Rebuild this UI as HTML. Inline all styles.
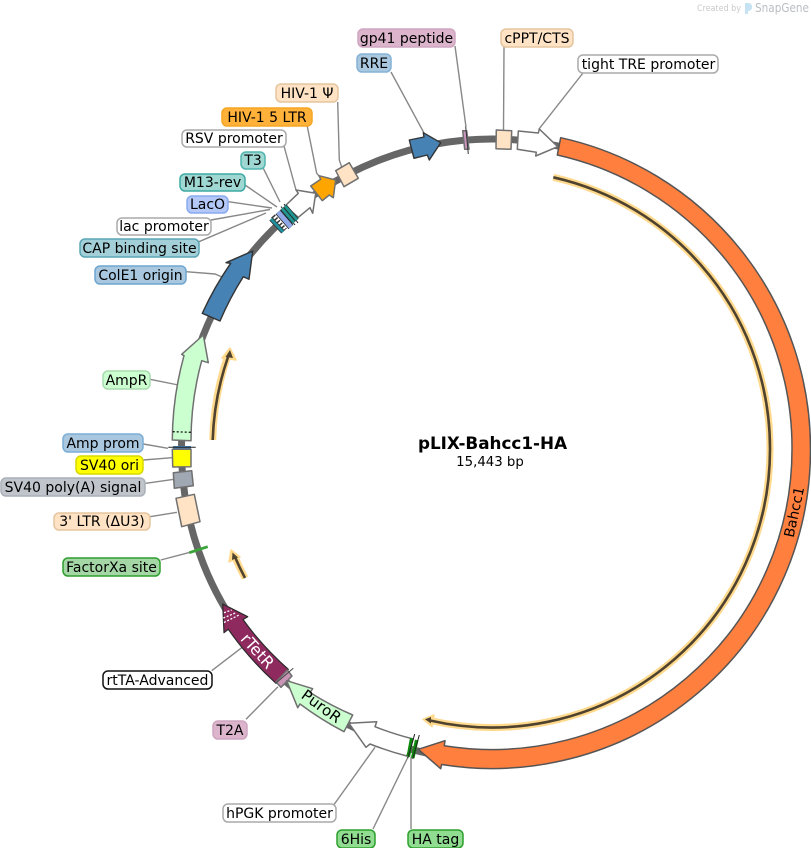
<!DOCTYPE html>
<html>
<head>
<meta charset="utf-8">
<style>
html,body{margin:0;padding:0;background:#fff;width:811px;height:848px;overflow:hidden}
svg{display:block}
text{font-family:"DejaVu Sans","Liberation Sans",sans-serif;font-size:14px;fill:#000}
.c{fill:none;stroke:#888;stroke-width:1.4}
.f{stroke:#707070;stroke-width:1.5;stroke-linejoin:round}
</style>
</head>
<body>
<svg width="811" height="848" viewBox="0 0 811 848" xmlns="http://www.w3.org/2000/svg">
<rect width="811" height="848" fill="#fff"/>

<!-- watermark -->
<text x="697" y="11" textLength="44" lengthAdjust="spacingAndGlyphs" style="font-size:9px;fill:#c9c9c9">Created by</text>
<path d="M745,3 h3 q4,0 4,4 t-4,4 v3 h-3z" fill="#c5e3f3"/>
<text x="755" y="12" textLength="54" lengthAdjust="spacingAndGlyphs" style="font-size:12px;fill:#b9bec2">SnapGene</text>

<!-- backbone -->
<circle cx="492" cy="449.5" r="310.5" fill="none" stroke="#666" stroke-width="7"/>

<!-- connectors -->
<path class="c" d="M455,46L466,127"/>
<path class="c" d="M504,47L503.5,130"/>
<path class="c" d="M391,72L424,133"/>
<path class="c" d="M583,73L539,129"/>
<path class="c" d="M337.7,102L339.3,160L342,168"/>
<path class="c" d="M307,125L316.7,173.3L320,177"/>
<path class="c" d="M284,146L296,190L300,193"/>
<path class="c" d="M263.3,168.3L280,202"/>
<path class="c" d="M245,185L277,207"/>
<path class="c" d="M228.3,201.7L272,208"/>
<path class="c" d="M211,220L270,209.5"/>
<path class="c" d="M199,241.7L266,213"/>
<path class="c" d="M186,271.7L215,274L222,277"/>
<path class="c" d="M150,379.3L178.3,385"/>
<path class="c" d="M143.3,444L168,448.3"/>
<path class="c" d="M143.3,460L172,457.7"/>
<path class="c" d="M145.7,483.3L174,479.3"/>
<path class="c" d="M150,516.7L177,512.3"/>
<path class="c" d="M160.7,560L190,552.3"/>
<path class="c" d="M211.7,670.7L241.7,647.7"/>
<path class="c" d="M246,719.3L278,686.7"/>
<path class="c" d="M333,806L375,747.3"/>
<path class="c" d="M373,829L408,757"/>
<path class="c" d="M411,829L411,757"/>

<!-- Bahcc1 -->
<path d="M560.7,137.7 A318.5,318.5 0 0 1 810.5,449.5 A318.5,318.5 0 0 1 441.6,764.5 L440.7,768.7 L418.3,749.3 L445,740.7 L444.3,745.7 A300,300 0 0 0 792,449.5 A300,300 0 0 0 557.3,155 Z" fill="#ff7f3f" stroke="#555" stroke-width="1.5" stroke-linejoin="round"/>
<text transform="translate(794,512) rotate(-78)" text-anchor="middle" y="5">Bahcc1</text>

<!-- translated ORF lines -->
<g fill="none" stroke="#ffd98c" stroke-width="7">
<path d="M553.3,177.3 A278,278 0 0 1 770,449.5 A278,278 0 0 1 430,720.5"/>
<path d="M212.7,440 A280,280 0 0 1 228,355"/>
<path d="M245,578 A280,280 0 0 1 234,555"/>
</g>
<g fill="#ffd98c" stroke="#ffd98c" stroke-width="1.5" stroke-linejoin="round">
<polygon points="423,719.3 434,715 432,726.5"/>
<polygon points="230,348 222,358 236,360"/>
<polygon points="231,550 229,562 240,557"/>
</g>
<g fill="none" stroke="#4f4330" stroke-width="2.6">
<path d="M553.3,177.3 A278,278 0 0 1 770,449.5 A278,278 0 0 1 430,720.5"/>
<path d="M212.7,440 A280,280 0 0 1 228,357"/>
<path d="M245,578 A280,280 0 0 1 235,557"/>
</g>
<g fill="#4f4330">
<polygon points="425,719.3 431,717 431,723.5"/>
<polygon points="230,350 225.5,357 233,358"/>
<polygon points="232.5,552.5 232,560 238,557.5"/>
</g>

<!-- features -->
<polygon class="f" fill="#fff" points="518.3,131 538.3,133 539.3,129 557.7,146.7 535.7,156 536.3,152.3 517.3,149.3"/>
<polygon class="f" fill="#ffe3c4" points="496.3,130 511.7,130.7 511,149.3 496,148.7"/>
<polygon class="f" fill="#c994bd" points="462.7,130.7 466.7,130.7 469,149.3 464.7,149.3"/>
<path d="M465.7,126.7L468.3,154" stroke="#333" stroke-width="1"/>
<polygon fill="#4682b4" stroke="#333" stroke-width="1.4" stroke-linejoin="round" points="409.3,140 424,137 423.3,132.7 440.7,142.7 429.3,160 427.3,155 414,158.3"/>
<polygon class="f" fill="#ffe3c4" points="335.7,170.7 349.3,162.7 358.3,178.3 344,186.7"/>

<polygon class="f" fill="#fff" points="285,206 298.3,193.3 296,190 315.7,193.3 312.7,213.3 310,207.7 298.3,217.3"/>
<polygon class="f" fill="#ffa500" stroke="#8a8a8a" points="310.7,186 320.7,179.3 319,175.7 335.7,180 333.3,197.7 329.3,195 322.3,200.7"/>

<!-- lac cluster -->
<g fill="none" stroke-linecap="butt">
<path d="M273,216L285,230" stroke="#fff" stroke-width="7"/>
<path d="M273,216L285,230" stroke="#333" stroke-width="5" stroke-dasharray="1.5 2"/>
<path d="M278,212L291,227" stroke="#222" stroke-width="6.5"/>
<path d="M278,212L291,227" stroke="#8fa9e8" stroke-width="5"/>
<path d="M284,204L298,223" stroke="#222" stroke-width="1"/>
<path d="M281,206.5L295,225" stroke="#222" stroke-width="1"/>
<path d="M285,206L297,220" stroke="#222" stroke-width="4.4"/>
<path d="M285,206L297,220" stroke="#1f9490" stroke-width="3"/>
<path d="M282,208.5L294,222.5" stroke="#222" stroke-width="4.4"/>
<path d="M282,208.5L294,222.5" stroke="#1f9490" stroke-width="3"/>
<path d="M271,219L283,232" stroke="#333" stroke-width="4.6"/>
<path d="M271,219L283,232" stroke="#1f8f9c" stroke-width="3"/>
</g>

<path d="M202.3,313.3 A320,320 0 0 1 230.7,263.3 L226,262.7 L252.7,251 L249,279.3 L243.3,276.7 A302,302 0 0 0 220,321 Z" fill="#4682b4" stroke="#333" stroke-width="1.4" stroke-linejoin="round"/>

<path class="f" d="M172.3,440 A320,320 0 0 1 184,355.7 L181.7,354.3 L203.3,335 L208.3,362.7 L201.7,360.7 A303,303 0 0 0 191,440.7 Z" fill="#ccffd0"/>
<path d="M172.7,431.7L191,432.3" stroke="#111" stroke-width="1.3" stroke-dasharray="2 2"/>

<rect x="173" y="446" width="18" height="3.4" fill="#4682b4"/>
<path d="M168.3,447.3L195.7,447.3" stroke="#222" stroke-width="1"/>
<polygon class="f" fill="#ffff00" points="172.3,449.3 191,449.3 191,466.7 172.7,467"/>
<polygon class="f" fill="#a0a8b4" points="173.3,472.7 191.7,470.7 193.3,485.7 174.3,488.3"/>
<polygon class="f" fill="#ffe3c4" points="176,498.3 194.3,494.3 200,521.7 181.7,526.7"/>
<path d="M189.3,552.7L207.7,546.7" stroke="#3aa33a" stroke-width="2.8"/>

<!-- rTetR -->
<path d="M222.7,604 L247.7,616.7 L243,619.5 A300,300 0 0 0 288.3,669.3 L276,683.3 A318,318 0 0 1 228.3,629.3 L224,632.7 Z" fill="#8e2a5e" stroke="#2a2a2a" stroke-width="1.2" stroke-linejoin="round"/>
<g stroke="#fff" stroke-width="1.3" stroke-dasharray="2 1.6">
<path d="M224,612.7L231.7,610"/>
<path d="M223.3,618L236,612.7"/>
<path d="M224,622.5L239,615"/>
</g>
<text transform="translate(257.5,651) rotate(48)" text-anchor="middle" y="5.5" style="fill:#fff;font-size:16px">rTetR</text>

<!-- T2A -->
<polygon class="f" fill="#c994b5" points="287.3,670 292,676 281,687.3 276,682"/>
<path d="M293.3,668.3L276,683" stroke="#444" stroke-width="1"/>

<!-- PuroR -->
<path class="f" d="M286.7,680.7 L312.7,688.7 L310,692.5 A305,305 0 0 0 352.7,715 L344,731.7 A322,322 0 0 1 300,704 L297.7,707.7 Z" fill="#ccffd0"/>
<text transform="translate(321.5,706.5) rotate(36)" text-anchor="middle" y="5" style="font-size:15px;letter-spacing:.3px">PuroR</text>

<!-- hPGK -->
<path class="f" d="M349,723.3 L376.7,721.7 L375,726.7 A302,302 0 0 0 413.3,739 L406.7,756 A319,319 0 0 1 370,744 L366,747.3 Z" fill="#fff"/>

<!-- His / HA -->
<path d="M411.7,738.3L408.3,756.7" stroke="#0a8a0a" stroke-width="3.6"/>
<path d="M416.7,740L412.7,758" stroke="#0a8a0a" stroke-width="3.6"/>
<path d="M414.7,734L407.7,758.3" stroke="#222" stroke-width="1"/>
<path d="M419.3,735L412.7,759" stroke="#222" stroke-width="1"/>

<!-- centre -->
<text x="492.5" y="449" text-anchor="middle" style="font-size:16.8px;font-weight:bold">pLIX-Bahcc1-HA</text>
<text x="490" y="466" text-anchor="middle" style="font-size:13.3px">15,443 bp</text>

<!-- labels -->
<g stroke-width="1.5">
<rect x="358" y="29" width="97" height="18" rx="5" fill="#dcb5cc" stroke="#cfa5c0"/>
<rect x="501" y="29" width="72" height="18" rx="5" fill="#ffe3c4" stroke="#e5c59f"/>
<rect x="357" y="54" width="34" height="18" rx="5" fill="#a9c8e0" stroke="#85b2d6"/>
<rect x="578" y="55" width="140" height="18" rx="5" fill="#fff" stroke="#aaa"/>
<rect x="276" y="84" width="62" height="18" rx="5" fill="#ffe3c4" stroke="#e5c59f"/>
<rect x="222" y="108" width="90" height="18" rx="5" fill="#ffb13a" stroke="#f5a623"/>
<rect x="182" y="130" width="104" height="17" rx="5" fill="#fff" stroke="#aaa"/>
<rect x="241" y="152" width="24" height="17" rx="5" fill="#9fd8d2" stroke="#52b5af"/>
<rect x="180" y="174" width="65" height="17" rx="5" fill="#9fd8d2" stroke="#3fa9a4"/>
<rect x="187" y="196" width="41" height="17" rx="5" fill="#b3c8f7" stroke="#8aabef"/>
<rect x="117" y="218" width="94" height="17" rx="5" fill="#fff" stroke="#aaa"/>
<rect x="80" y="239" width="119" height="18" rx="5" fill="#a3d0d8" stroke="#5aa5b5"/>
<rect x="95" y="266" width="91" height="18" rx="5" fill="#a9c8e0" stroke="#6ea6d0"/>
<rect x="103" y="371" width="47" height="18" rx="5" fill="#ccffd0" stroke="#a8dcae"/>
<rect x="63" y="434" width="80" height="18" rx="5" fill="#a9c8e0" stroke="#7aaed6"/>
<rect x="76" y="456" width="67" height="18" rx="5" fill="#ffff00" stroke="#d8d800"/>
<rect x="1" y="478" width="144" height="18" rx="5" fill="#c0c5cc" stroke="#aab0b8"/>
<rect x="54" y="513" width="96" height="17" rx="5" fill="#ffe3c4" stroke="#e5c59f"/>
<rect x="63" y="558" width="97" height="18" rx="5" fill="#a5d6a5" stroke="#2e9e2e"/>
<rect x="103" y="671" width="109" height="18" rx="5" fill="#fff" stroke="#111"/>
<rect x="213" y="721" width="34" height="18" rx="5" fill="#dcb5cc" stroke="#cfa5c0"/>
<rect x="223" y="804" width="113" height="18" rx="5" fill="#fff" stroke="#aaa"/>
<rect x="337" y="830" width="38" height="18" rx="5" fill="#90dc90" stroke="#2ea02e"/>
<rect x="408" y="830" width="55" height="18" rx="5" fill="#90dc90" stroke="#2ea02e"/>
</g>
<g text-anchor="middle">
<text x="406.5" y="43">gp41 peptide</text>
<text x="537" y="43">cPPT/CTS</text>
<text x="374" y="68">RRE</text>
<text x="648.5" y="69">tight TRE promoter</text>
<text x="307" y="98">HIV-1 Ψ</text>
<text x="267" y="122">HIV-1 5 LTR</text>
<text x="234" y="143">RSV promoter</text>
<text x="253" y="165">T3</text>
<text x="212.5" y="187">M13-rev</text>
<text x="207.5" y="209">LacO</text>
<text x="164" y="231">lac promoter</text>
<text x="139.5" y="253">CAP binding site</text>
<text x="140.5" y="280">ColE1 origin</text>
<text x="126.5" y="385">AmpR</text>
<text x="103" y="448">Amp prom</text>
<text x="109.5" y="470">SV40 ori</text>
<text x="73" y="492">SV40 poly(A) signal</text>
<text x="102" y="526">3' LTR (ΔU3)</text>
<text x="111.5" y="572">FactorXa site</text>
<text x="157.5" y="685">rtTA-Advanced</text>
<text x="230" y="735">T2A</text>
<text x="279.5" y="818">hPGK promoter</text>
<text x="356" y="844">6His</text>
<text x="435.5" y="844">HA tag</text>
</g>
</svg>
</body>
</html>
